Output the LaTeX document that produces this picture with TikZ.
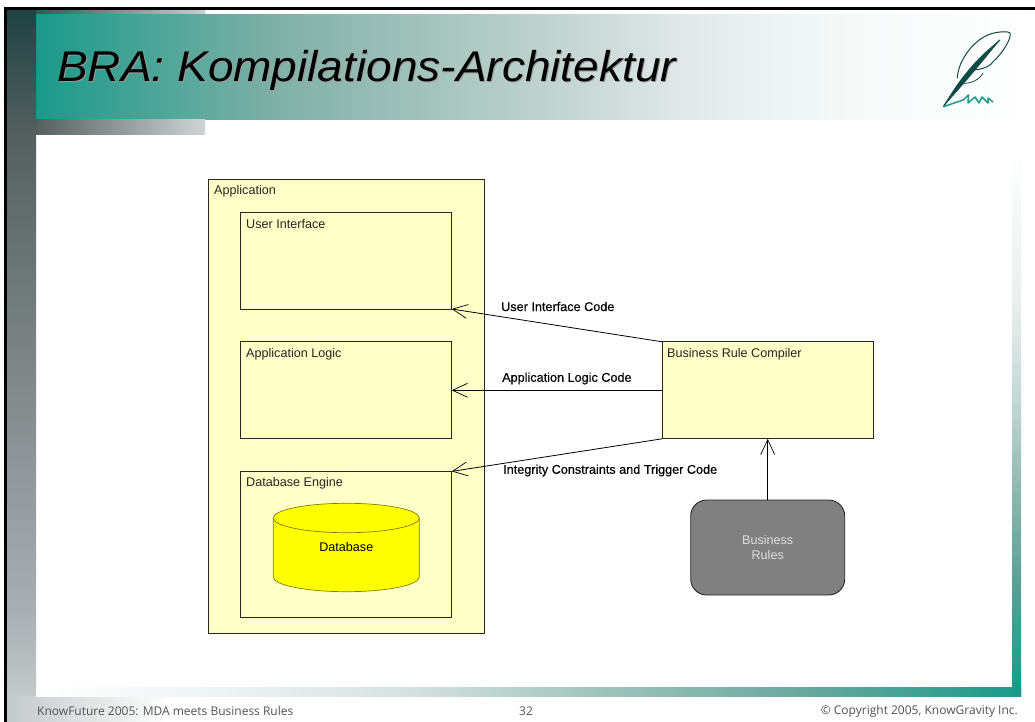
\documentclass[tikz,border=0pt]{standalone}
\usepackage{fontspec}
\setmainfont{Liberation Sans}
\newfontfamily\lblfont[FakeBold=0.3]{Liberation Sans}
\newfontfamily\footfont{Open Sans}
\usetikzlibrary{arrows.meta}
\definecolor{boxy}{HTML}{FFFFC8}
\definecolor{puree}{HTML}{FFFF00}
\definecolor{cylline}{HTML}{808000}
\definecolor{teal1}{HTML}{1A9A8A}
\definecolor{teal2}{HTML}{7FB0A6}
\definecolor{teal3}{HTML}{BDD1CD}
\definecolor{teal35}{HTML}{E4EAEC}
\definecolor{teal4}{HTML}{F4F9F8}
\definecolor{lb1}{HTML}{1F4242}
\definecolor{lb2}{HTML}{555F5F}
\definecolor{lb3}{HTML}{A9AFB3}
\definecolor{lb4}{HTML}{C4C9C9}
\definecolor{quillD}{HTML}{0F4A46}
\definecolor{quillT}{HTML}{1F9A8A}
\definecolor{e1}{HTML}{F0F5F5}
\definecolor{e2}{HTML}{D8E2E2}
\definecolor{e3}{HTML}{A0C4BC}
\definecolor{e4}{HTML}{6AA89E}
\definecolor{r1}{HTML}{E8EEEE}
\definecolor{r2}{HTML}{C5D8D5}
\definecolor{r3}{HTML}{8FB8AE}
\definecolor{r4}{HTML}{5AA095}
\pgfdeclarehorizontalshading{titleband}{100bp}{color(0bp)=(teal1);color(25bp)=(teal1);color(37bp)=(teal2);color(50bp)=(teal3);color(58bp)=(teal35);color(65bp)=(teal4);color(75bp)=(white);color(100bp)=(white)}
\pgfdeclareverticalshading{leftband}{100bp}{color(0bp)=(lb4);color(25bp)=(lb4);color(31bp)=(lb3);color(66bp)=(lb2);color(75bp)=(lb1);color(100bp)=(lb1)}
\pgfdeclarehorizontalshading{bottomband}{100bp}{color(0bp)=(white);color(25bp)=(white);color(33.3bp)=(e1);color(43.5bp)=(e2);color(53.6bp)=(e3);color(63.8bp)=(e4);color(75bp)=(teal1);color(100bp)=(teal1)}
\pgfdeclareverticalshading{rightband}{100bp}{color(0bp)=(teal1);color(25.5bp)=(teal1);color(34.8bp)=(r4);color(42.9bp)=(r3);color(50.9bp)=(r2);color(59bp)=(r1);color(72.4bp)=(white);color(100bp)=(white)}
\tikzset{
  box/.style={draw=black!85,line width=0.9pt,fill=boxy,rectangle,minimum width=#1,inner sep=0pt,outer sep=0pt},
  boxtext/.style={anchor=west,inner sep=0pt,font=\fontsize{12.6}{14}\selectfont,text=black!85},
  codetext/.style={anchor=west,inner sep=0pt,font=\lblfont\fontsize{12.65}{14}\selectfont},
  flow/.style={line width=0.8pt,-{Straight Barb[length=15pt,width=14pt,line width=0.7pt]}},
  foot/.style={inner sep=0pt,font=\footfont\fontsize{12}{14}\selectfont,text=black!68},
  titletext/.style={anchor=base west,inner sep=0pt,xscale=1.07,font=\itshape\fontsize{43}{50}\selectfont},
  quill/.style={quillD,line cap=round,line width=1pt}
}
\begin{document}
\begin{tikzpicture}[x=1pt,y=-1pt]
\useasboundingbox (0,0) rectangle (1035,722);
\fill[white] (0,0) rectangle (1035,722);
% slide background
\shade[left color=lb1,right color=lb4!90!white] (7,10) rectangle (205,15);
\shade[shading=titleband] (36,15) rectangle (1035,120);
\shade[left color=lb2,right color=lb4!80!white] (36,120) rectangle (205,135);
\shade[shading=leftband] (7,10) rectangle (36,696);
\shade[left color=lb4,right color=white] (7,696) rectangle (170,722);
\shade[shading=bottomband] (36,687) rectangle (1021,696);
\shade[shading=rightband] (1012,120) rectangle (1021,696);
\shade[left color=teal1,right color=teal1] (1012,687) rectangle (1021,696);
\fill[black] (4,7) rectangle (1035,10);
\fill[black] (4,7) rectangle (7,722);
% quill
\fill[quillD] (943.3,106.7) .. controls (958,80) and (978,56) .. (1000,40) .. controls (984,60) and (964,84) .. (943.3,106.7) -- cycle;
\draw[quillD,line width=1.2pt] (943.3,106.7) .. controls (960,82) and (980,58) .. (1000,40);
\draw[quill] (957.3,78) .. controls (958,60) and (975,38) .. (992,33.5) .. controls (1000,31.5) and (1008,31) .. (1010,33) .. controls (1012,38) and (1002,54) .. (993,61.7) .. controls (990,67) and (980,70) .. (971.7,70);
\draw[quill,line width=0.8pt] (983,73) .. controls (980,79) and (972,84) .. (961.7,83.3);
\draw[quillT,line width=1.5pt,line join=round] (943.3,106.7) -- (963.3,100) -- (968.5,95) -- (968,103) -- (975,97) -- (979,103) -- (982,97) -- (988,103) -- (988,98) -- (993,102);
% title
\node[titletext,text=black!40] (titleshadow) at (58,82.7) {BRA: Kompilations-Architektur};
\node[titletext] (title) at (57,81.7) {BRA: Kompilations-Architektur};
% diagram
\node[box=276pt,minimum height=454pt] (app) at (346.2,406.3) {};
\node[box=211pt,minimum height=97pt] (ui) at (346.2,260.5) {};
\node[box=211pt,minimum height=97pt] (logic) at (346.2,390.3) {};
\node[box=211pt,minimum height=146pt] (dbe) at (346.2,544.4) {};
\node[box=211pt,minimum height=97pt] (comp) at (767.7,390.3) {};
\node[draw=black!85,line width=0.9pt,fill=black!50,rectangle,rounded corners=16pt,minimum width=154pt,minimum height=95pt,inner sep=0pt,outer sep=0pt,align=center,text=white!88!black,font=\fontsize{12.6}{15}\selectfont] (rules) at (767.7,547.5) {Business\\Rules};
\draw[draw=cylline,line width=0.7pt,fill=puree] (273.3,518) arc[start angle=180,end angle=360,x radius=73,y radius=14.7] -- (419.3,577) arc[start angle=0,end angle=180,x radius=73,y radius=14.7] -- cycle;
\draw[draw=cylline,line width=0.7pt] (273.3,518) arc[start angle=180,end angle=0,x radius=73,y radius=14.7];
\node[inner sep=0pt,font=\fontsize{12.6}{14}\selectfont] (dbl) at (346.3,547.3) {Database};
\node[boxtext] (appl) at (214,191) {Application};
\node[boxtext] (uil) at (246,224.5) {User Interface};
\node[boxtext] (logl) at (246,354) {Application Logic};
\node[boxtext] (dbel) at (246,483.5) {Database Engine};
\node[boxtext] (compl) at (667,354) {Business Rule Compiler};
\node[codetext] (c1) at (501,306.5) {User Interface Code};
\node[codetext] (c2) at (502,378.5) {Application Logic Code};
\node[codetext] (c3) at (503,470.5) {Integrity Constraints and Trigger Code};
\draw[flow] (comp.north west) -- (ui.south east);
\draw[flow] (comp.west) -- (logic.east);
\draw[flow] (comp.south west) -- (dbe.north east);
\draw[flow] (rules.north) -- (comp.south);
% footer
\node[foot,anchor=west] (f1) at (37,711) {KnowFuture 2005: MDA meets Business Rules};
\node[foot] (f2) at (526,711) {32};
\node[foot,anchor=east] (f3) at (1018,711) {© Copyright 2005, KnowGravity Inc.};
\end{tikzpicture}
\end{document}
